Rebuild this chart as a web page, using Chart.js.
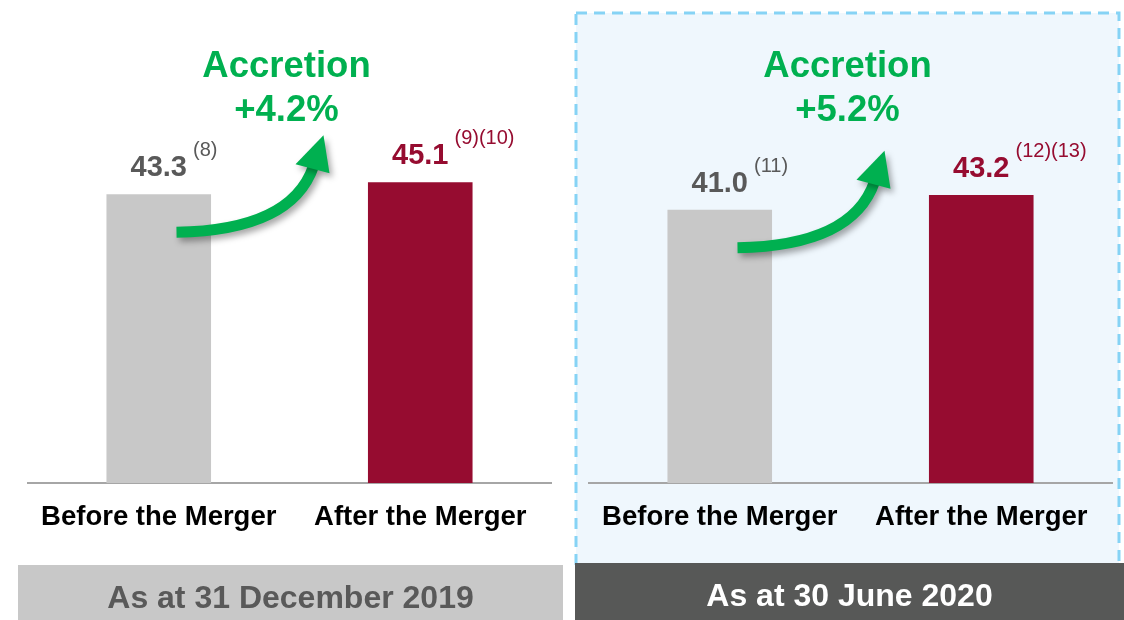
<!DOCTYPE html>
<html>
<head>
<meta charset="utf-8">
<script src="https://cdn.jsdelivr.net/npm/chart.js@4/dist/chart.umd.min.js"></script>
<style>
  body { margin: 0; background: #fff; }
  #wrap { position: relative; width: 1124px; height: 620px; overflow: hidden; }
  canvas { position: absolute; top: 0; }
</style>
</head>
<body>
<div id="wrap">
  <canvas id="leftChart" width="566" height="620" style="left:0"></canvas>
  <canvas id="rightChart" width="558" height="620" style="left:566px"></canvas>
</div>
<script>
const categories = ["Before the Merger", "After the Merger"];
const dec2019Values = [43.3, 45.1];
const jun2020Values = [41.0, 43.2];
const dec2019Notes = ["(8)", "(9)(10)"];
const jun2020Notes = ["(11)", "(12)(13)"];
const accretionLabels = ["+4.2%", "+5.2%"];
const periodLabels = ["As at 31 December 2019", "As at 30 June 2020"];

const barColors = ["#c8c8c8", "#960c30"];
const valueColors = ["#595959", "#960c30"];
const GREEN = "#00b050";
const FONT = "'Liberation Sans', Arial, Helvetica, sans-serif";

Chart.defaults.font.family = FONT;

// panel backgrounds, dashed frame and the bottom banner
const panelPlugin = {
  id: "panel",
  beforeDraw(chart, args, opts) {
    const ctx = chart.ctx;
    ctx.save();
    if (opts.frame) {
      const f = opts.frame;
      ctx.fillStyle = "#eff7fd";
      ctx.fillRect(f.x, f.y, f.w, f.h);
      ctx.strokeStyle = "#86d3f5";
      ctx.lineWidth = 3;
      ctx.setLineDash([11, 7]);
      ctx.strokeRect(f.x, f.y, f.w, f.h);
      ctx.setLineDash([]);
    }
    const b = opts.banner;
    ctx.fillStyle = b.bg;
    ctx.fillRect(b.x, b.y, b.w, b.h);
    ctx.fillStyle = b.color;
    ctx.font = "bold 32px " + FONT;
    ctx.textAlign = "center";
    ctx.textBaseline = "alphabetic";
    ctx.fillText(b.text, b.x + b.w / 2, b.y + 43);
    ctx.restore();
  }
};

// value labels, footnote marks, the accretion text and arrow
const labelPlugin = {
  id: "labels",
  afterDatasetsDraw(chart, args, opts) {
    const ctx = chart.ctx;
    const bars = chart.getDatasetMeta(0).data;
    const values = chart.data.datasets[0].data;
    ctx.save();
    bars.forEach((bar, i) => {
      const txt = values[i].toFixed(1);
      ctx.font = "bold 29px " + FONT;
      ctx.fillStyle = valueColors[i];
      ctx.textAlign = "center";
      ctx.textBaseline = "alphabetic";
      ctx.fillText(txt, bar.x, bar.y - 18);
      const w = ctx.measureText(txt).width;
      ctx.font = "20px " + FONT;
      ctx.textAlign = "left";
      ctx.fillText(opts.notes[i], bar.x + w / 2 + 6, bar.y - 38);
    });

    const midX = (bars[0].x + bars[1].x) / 2 - 3;
    ctx.fillStyle = GREEN;
    ctx.textAlign = "center";
    ctx.font = "bold 36.5px " + FONT;
    ctx.fillText("Accretion", midX, 77);
    ctx.fillText(opts.accretion, midX, 121);

    // curved arrow, drawn relative to its tail
    const tx = midX - 110, ty = bars[0].y + 38;
    ctx.translate(tx, ty);
    ctx.shadowColor = "rgba(0,0,0,0.35)";
    ctx.shadowBlur = 6;
    ctx.shadowOffsetX = 3;
    ctx.shadowOffsetY = 4;
    ctx.strokeStyle = GREEN;
    ctx.lineWidth = 11;
    ctx.lineCap = "butt";
    ctx.beginPath();
    ctx.moveTo(0, 0);
    ctx.quadraticCurveTo(115, -2, 137, -66);
    ctx.stroke();
    ctx.beginPath();
    ctx.moveTo(147, -97);
    ctx.lineTo(119, -68);
    ctx.lineTo(153, -59);
    ctx.closePath();
    ctx.fillStyle = GREEN;
    ctx.fill();
    ctx.restore();
  }
};

function makeChart(id, values, notes, accretion, pad, panelOpts) {
  return new Chart(document.getElementById(id), {
    type: "bar",
    data: {
      labels: categories,
      datasets: [{
        data: values,
        backgroundColor: barColors,
        barPercentage: 0.4,
        categoryPercentage: 1.0
      }]
    },
    options: {
      responsive: false,
      animation: false,
      devicePixelRatio: 1,
      layout: { padding: { left: pad.left, right: pad.right, top: 83, bottom: 0 } },
      plugins: {
        legend: { display: false },
        tooltip: { enabled: false },
        labels: { notes: notes, accretion: accretion },
        panel: panelOpts
      },
      scales: {
        x: {
          grid: { display: false, drawTicks: false },
          border: { display: true, color: "#a6a6a6", width: 2 },
          ticks: {
            color: "#000",
            padding: 18,
            font: { size: 27.5, weight: "bold" }
          },
          afterFit(scale) { scale.height = 137; }
        },
        y: { display: false, min: 0, max: 60 }
      }
    },
    plugins: [panelPlugin, labelPlugin]
  });
}

makeChart("leftChart", dec2019Values, dec2019Notes, accretionLabels[0],
  { left: 28, right: 15 },
  { banner: { x: 18, y: 565, w: 545, h: 55, bg: "#c8c8c8", color: "#595959", text: periodLabels[0] } });

makeChart("rightChart", jun2020Values, jun2020Notes, accretionLabels[1],
  { left: 23, right: 12 },
  { frame: { x: 10, y: 13, w: 543, h: 552 },
    banner: { x: 9, y: 563, w: 549, h: 57, bg: "#575857", color: "#fff", text: periodLabels[1] } });
</script>
</body>
</html>
